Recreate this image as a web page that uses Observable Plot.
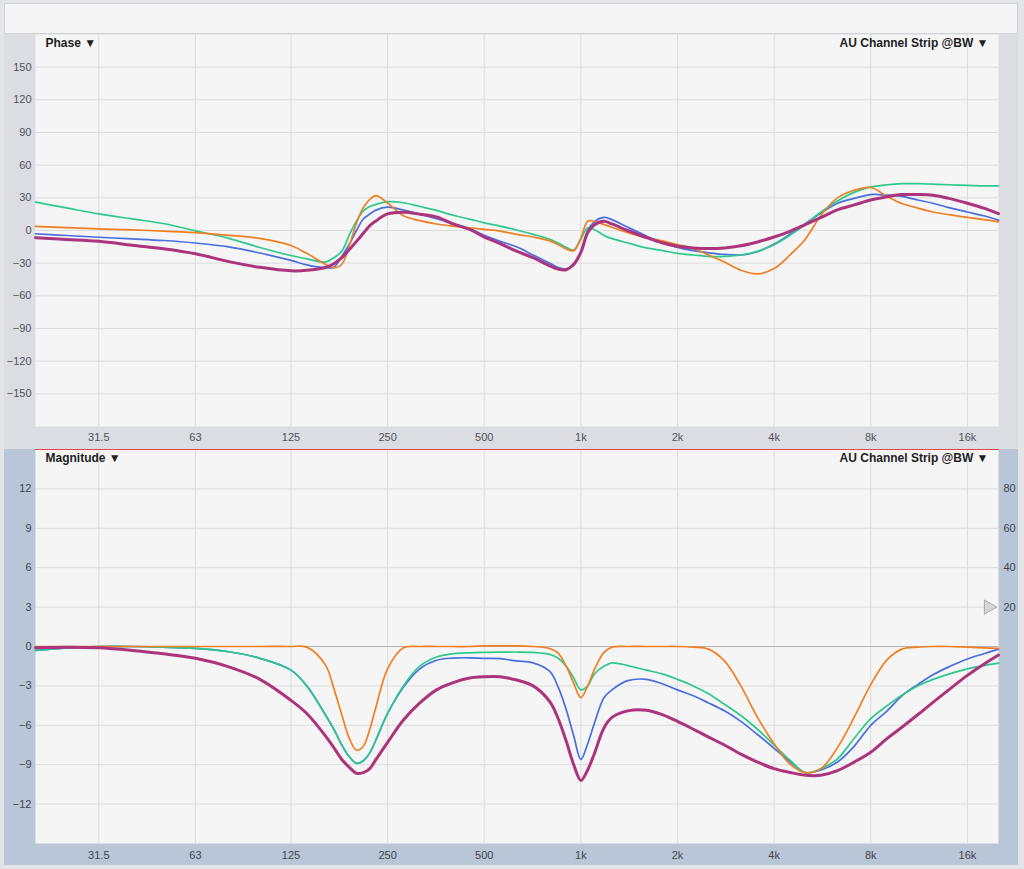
<!DOCTYPE html>
<html><head><meta charset="utf-8">
<script src="https://cdn.jsdelivr.net/npm/d3@7"></script>
<script src="https://cdn.jsdelivr.net/npm/@observablehq/plot@0.6"></script>
<style>
html,body{margin:0;padding:0;background:#e3e4e8;}
#wrap{position:relative;width:1024px;height:869px;overflow:hidden;background:#e3e4e8;}
#topband{position:absolute;left:4px;top:3px;width:1012px;height:29px;background:#f4f4f4;border:1px solid #d2d3d8;}
#phase{position:absolute;left:4px;top:34px;}
#mag{position:absolute;left:4px;top:449px;}
svg{display:block;}
</style>
</head><body>
<div id="wrap"><div id="topband"></div><div id="phase"></div><div id="mag"></div></div>
<script>
// ---- data ----
const freqs = [20,25,31.5,40,50,63,80,100,125,140,160,170,180,190,200,210,220,230,250,280,315,355,400,450,500,560,630,710,800,850,900,950,1000,1050,1100,1180,1250,1400,1600,1800,2000,2240,2500,2800,3150,3550,4000,4500,5000,5600,6300,7100,8000,9000,10000,11200,12500,14000,16000,18000,20000];

const seriesNames = ["blue","green","orange","magenta"];
const seriesColors = ["#4a6ee0","#2ec98c","#f07f22","#ab347c"];
const seriesWidths = [1.7,1.7,1.7,3];

const magBlue = [-0.3,-0.1,0,0,-0.05,-0.15,-0.4,-0.9,-1.8,
 -3.0,-5.2,-6.3,-7.5,-8.4,-8.9,-8.7,-8.1,-7.1,-5.1,
 -3.1,-1.7,-1.05,-0.88,-0.86,-0.9,-0.93,-1.1,-1.25,-1.9,
 -3.1,-4.8,-6.8,-8.6,-7.4,-5.9,-3.9,-3.3,-2.6,-2.5,
 -2.85,-3.3,-3.75,-4.3,-4.9,-5.7,-6.7,-7.75,-8.8,-9.6,
 -9.4,-8.8,-7.6,-6.0,-4.9,-3.75,-2.9,-2.15,-1.55,-0.95,
 -0.55,-0.2];
const magGreen = [-0.3,-0.1,0,0,-0.05,-0.15,-0.4,-0.9,-1.8,
 -3.0,-5.2,-6.3,-7.5,-8.4,-8.9,-8.7,-8.1,-7.1,-5.1,
 -3.0,-1.5,-0.8,-0.55,-0.48,-0.45,-0.43,-0.42,-0.45,-0.6,
 -0.9,-1.5,-2.4,-3.3,-3.0,-2.1,-1.5,-1.25,-1.45,-1.8,
 -2.1,-2.5,-3.0,-3.6,-4.4,-5.25,-6.3,-7.5,-8.7,-9.6,
 -9.3,-8.55,-7.0,-5.5,-4.5,-3.7,-3.0,-2.5,-2.1,-1.7,
 -1.45,-1.27];
const magOrange = [0,0,0,0,0,0,0,0,0,
 -0.05,-1.4,-3.2,-5.2,-7.0,-7.9,-7.6,-6.3,-4.6,-1.7,
 -0.1,0,0,0,0,0.05,0.05,0.05,0,-0.15,
 -0.5,-1.5,-2.8,-3.9,-3.0,-1.8,-0.45,-0.05,0,0,
 0,0,-0.05,-0.2,-1.1,-3.0,-5.4,-7.4,-9.0,-9.6,
 -9.3,-7.7,-5.4,-2.9,-1.0,-0.2,-0.05,0,0,-0.05,
 -0.1,-0.15];
const magMagenta = [-0.1,-0.05,-0.1,-0.3,-0.55,-0.9,-1.55,-2.5,-4.1,
 -5.1,-6.8,-7.7,-8.6,-9.2,-9.65,-9.6,-9.3,-8.6,-7.3,
 -5.6,-4.3,-3.3,-2.75,-2.4,-2.3,-2.3,-2.55,-3.0,-4.2,
 -5.5,-7.2,-9.0,-10.2,-9.4,-8.2,-6.2,-5.4,-4.9,-4.85,
 -5.2,-5.7,-6.3,-6.9,-7.5,-8.2,-8.8,-9.3,-9.6,-9.8,
 -9.8,-9.45,-8.8,-8.05,-7.0,-6.15,-5.2,-4.25,-3.3,-2.2,
 -1.35,-0.65];

const phaseBlue = [-3,-4.6,-6.2,-7.7,-9.2,-11.5,-15,-20.7,-27.5,
 -31.5,-34.2,-33.8,-23.7,-12.6,0,10.6,15.1,18.7,21.4,
 18.8,15,10.8,6.2,1.7,-4.5,-10,-15,-22.5,-30,
 -34,-35.3,-32,-20,0,8,12,10,3,-5,
 -11.5,-15.5,-18.5,-20.5,-22,-22.5,-19.5,-12.5,-3,6.3,
 16,25,29.5,33,32.5,31.3,28,25,21,17,
 13.5,9.5];
const phaseGreen = [26,20.7,15.2,10.6,6.4,-0.3,-7.2,-15.6,-23,
 -26,-29,-25,-19,-4,8.8,18,22,24,26.5,
 25.5,22,18.5,14,10.5,7,4,0.5,-3.5,-8,
 -11.5,-15.5,-18,-8,2.5,1,-4.5,-7.5,-11.5,-16,
 -18.5,-21,-22.5,-23.8,-23.8,-22.5,-19,-13,-4,5.5,
 17,27,35,40,42,43,43,42.5,42,41.5,
 41,41];
const phaseOrange = [3.7,2.6,1.5,0.5,-0.5,-2,-4.4,-7.3,-13.8,
 -21,-31,-34.3,-31,-14,7,21,28.5,32,25.2,
 13.5,9,6,4,2.5,1,-0.5,-3.5,-6,-9.5,
 -13,-17,-18.5,-7,8.5,8.5,5.5,3,-2,-6.5,
 -9.5,-13,-16.5,-22.5,-29,-36.5,-39.8,-35,-22,-8,
 14,30,37,39.5,31.3,24.8,20.6,17,14.5,12,
 10,8];
const phaseMagenta = [-6.7,-8.2,-9.9,-13.5,-16.7,-21.3,-28.6,-33.8,-37,
 -36.6,-34,-30.5,-25,-17.5,-10,-2.6,4.5,8.8,15.2,
 16.7,15,12.5,6,1,-6,-12,-19,-25,-32.5,
 -35.5,-36,-31,-20,-2,5,8.5,6,0,-6.5,
 -11.5,-14.5,-16,-16.5,-16,-14,-10.5,-6,-0.5,5.5,
 12,19,23.5,28,31,33,33,32.3,29.5,25,
 20.5,15.5];

const xTickValues = [31.5,63,125,250,500,1000,2000,4000,8000,16000];
const xTickLabels = ["31.5","63","125","250","500","1k","2k","4k","8k","16k"];
const phaseTicks = [-150,-120,-90,-60,-30,0,30,60,90,120,150];
const magTicks = [-12,-9,-6,-3,0,3,6,9,12];
const magRightTicks = [3,6,9,12];
const magRightLabels = ["20","40","60","80"];
const phaseTitle = "Phase ▼";
const magTitle = "Magnitude ▼";
const pluginTitle = "AU Channel Strip @BW ▼";

// ---- build ----
const magSeries = [magBlue, magGreen, magOrange, magMagenta];
const phaseSeries = [phaseBlue, phaseGreen, phaseOrange, phaseMagenta];
const rowsOf = arr => arr.map((vals, k) => freqs.map((f, i) => ({f, v: vals[i], s: seriesNames[k]})));
const magRows = rowsOf(magSeries);
const phaseRows = rowsOf(phaseSeries);
const xTickRows = xTickValues.map((v, i) => ({v, label: xTickLabels[i]}));
const font = "'Liberation Sans', Arial, Helvetica, sans-serif";

function lines(rowsList) {
  return rowsList.map((rows, k) => Plot.line(rows, {
    x: "f", y: "v", stroke: seriesColors[k], strokeWidth: seriesWidths[k],
    curve: "catmull-rom", strokeLinejoin: "round", strokeLinecap: "round"
  }));
}
function titles(left) {
  return [
    Plot.text([left], {text: d => d, frameAnchor: "top-left", dx: 10, dy: 4, textAnchor: "start", lineAnchor: "top", fontWeight: "bold", fontSize: 12, fill: "#1e1e1e"}),
    Plot.text([pluginTitle], {text: d => d, frameAnchor: "top-right", dx: -10, dy: 4, textAnchor: "end", lineAnchor: "top", fontWeight: "bold", fontSize: 12, fill: "#1e1e1e"})
  ];
}
function xLabels(pad, color) {
  return Plot.text(xTickRows, {x: "v", text: "label", frameAnchor: "bottom", dy: pad, lineAnchor: "top", fill: color, fontSize: 11});
}

const phasePlot = Plot.plot({
  width: 1014, height: 415,
  marginLeft: 31, marginRight: 20, marginTop: 0, marginBottom: 23,
  style: {background: "#dcdde2", fontFamily: font, fontSize: "11px", color: "#50535a"},
  x: {type: "log", domain: [20, 20000], axis: null},
  y: {domain: [-180, 180], axis: null},
  marks: [
    Plot.frame({fill: "#f5f5f5", stroke: "none"}),
    Plot.gridX(xTickValues, {stroke: "#dcdcdc", strokeOpacity: 1}),
    Plot.gridY(phaseTicks, {stroke: "#dcdcdc", strokeOpacity: 1}),
    xLabels(7, "#50535a"),
    Plot.axisY(phaseTicks, {tickSize: 0, tickPadding: 4, label: null, fill: "#50535a"}),
    ...lines(phaseRows),
    ...titles(phaseTitle)
  ]
});
document.getElementById("phase").appendChild(phasePlot);

const magPlot = Plot.plot({
  width: 1014, height: 416,
  marginLeft: 31, marginRight: 20, marginTop: 0, marginBottom: 22,
  style: {background: "#b9c6d7", fontFamily: font, fontSize: "11px", color: "#3f4550"},
  x: {type: "log", domain: [20, 20000], axis: null},
  y: {domain: [-15, 15], axis: null},
  marks: [
    Plot.frame({fill: "#f5f5f5", stroke: "none"}),
    Plot.gridX(xTickValues, {stroke: "#dcdcdc", strokeOpacity: 1}),
    Plot.gridY(magTicks.filter(d => d !== 0), {stroke: "#dcdcdc", strokeOpacity: 1}),
    Plot.ruleY([0], {stroke: "#b4b4b4", strokeWidth: 1}),
    Plot.frame({anchor: "top", stroke: "#e0474c", strokeWidth: 1.2}),
    xLabels(8, "#3f4550"),
    Plot.axisY(magTicks, {tickSize: 0, tickPadding: 4, label: null, fill: "#3f4550"}),
    Plot.axisY(magRightTicks, {anchor: "right", tickSize: 0, tickPadding: 5, label: null, fill: "#3f4550",
      tickFormat: d => magRightLabels[magRightTicks.indexOf(d)]}),
    ...lines(magRows),
    Plot.dot([3], {y: d => d, frameAnchor: "right", dx: -10, symbol: "triangle", rotate: 90, r: 5.3, fill: "#d6d6d6", stroke: "#9c9c9c", strokeWidth: 0.8}),
    ...titles(magTitle)
  ]
});
document.getElementById("mag").appendChild(magPlot);
</script>
</body></html>
